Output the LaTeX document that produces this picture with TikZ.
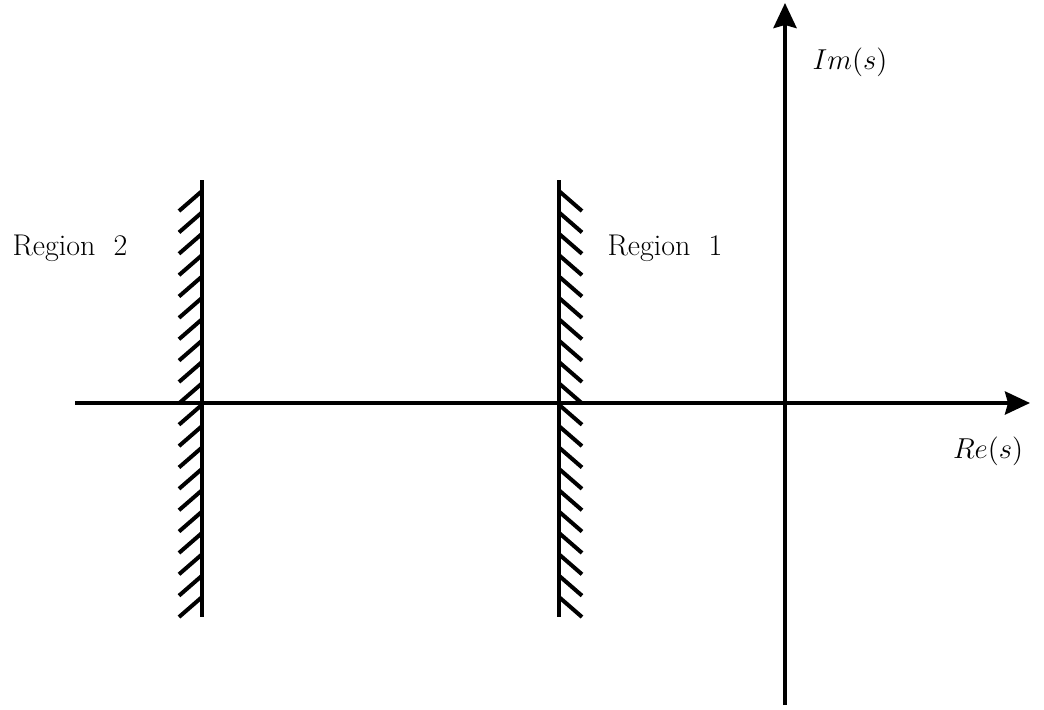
\documentclass[tikz,border=0pt]{standalone}
\usepackage{amsmath}
\usepackage{tikz}
\usetikzlibrary{arrows.meta}

\begin{document}
\begin{tikzpicture}[x=0.5pt, y=-0.5pt, line width=2pt,
    axis/.style={-{Stealth[length=12.5pt, width=11.5pt, inset=1.5pt]}},
    lbl/.style={font=\fontsize{15}{18}\selectfont}]
            \useasboundingbox (0,0) rectangle (1044,709);

            % Axes
            \coordinate (re west) at (75,403);
            \coordinate (re east) at (1030,403);
            \coordinate (im south) at (785,705);
            \coordinate (im north) at (785,3);
            \draw[axis] (re west) -- (re east);
            \draw[axis] (im south) -- (im north);

            % Boundary of region 2 (hatched on the left)
            \coordinate (wall2 top) at (202,180);
            \coordinate (wall2 bottom) at (202,617);
            \draw (wall2 top) -- (wall2 bottom);
            \foreach \k in {0,...,19}
                \draw (202,191+21.37*\k) -- ++(-23,20);

            % Boundary of region 1 (hatched on the right)
            \coordinate (wall1 top) at (559,180);
            \coordinate (wall1 bottom) at (559,617);
            \draw (wall1 top) -- (wall1 bottom);
            \foreach \k in {0,...,19}
                \draw (559,191+21.37*\k) -- ++(23,20);

            % Labels
            \node[lbl] (im label) at (850,62) {$Im(s)$};
            \node[lbl] (re label) at (988,451) {$Re(s)$};
            \node[lbl] (region2) at (70,248) {Region\ \ 2};
            \node[lbl] (region1) at (665,248) {Region\ \ 1};
         \end{tikzpicture}
\end{document}
